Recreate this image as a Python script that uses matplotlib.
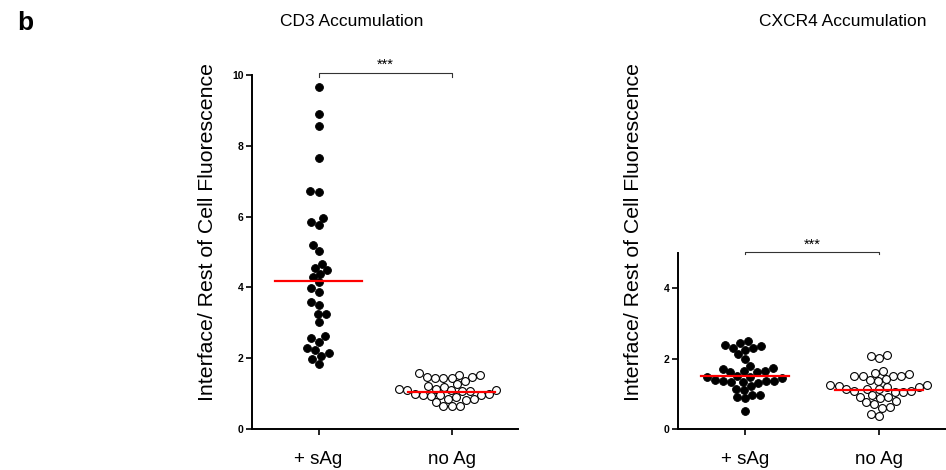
import numpy as np
import matplotlib
matplotlib.use('Agg')
import matplotlib.pyplot as plt

plt.rcParams['font.family'] = ['Liberation Sans', 'DejaVu Sans']

# ---------------------------------------------------------------------------
# Data
# ---------------------------------------------------------------------------
groups = ['+ sAg', 'no Ag']

cd3_sag = [9.66, 8.91, 8.55, 7.66, 6.70, 6.72, 5.85, 5.76, 5.96, 5.20, 5.04,
           4.67, 4.50, 4.54, 4.30, 4.37, 4.14, 3.97, 3.88, 3.60, 3.49, 3.24,
           3.24, 3.01, 2.62, 2.57, 2.47, 2.24, 2.07, 2.16, 2.29, 1.99, 1.85]
cd3_noag = [1.59, 1.53, 1.52, 1.48, 1.47, 1.45, 1.43, 1.43, 1.35,
            1.26, 1.22, 1.20,
            1.14, 1.12, 1.10, 1.10, 1.10, 1.08, 1.06,
            1.00, 1.00, 0.96, 0.96, 0.95, 0.93, 0.91,
            0.86, 0.84, 0.81, 0.75,
            0.65, 0.65, 0.65]
cd3_median = [4.18, 1.04]

cxcr4_sag = [2.49, 2.43, 2.40, 2.36, 2.30, 2.30, 2.24, 2.12, 2.00,
             1.79, 1.72, 1.70, 1.65, 1.64, 1.62, 1.61,
             1.50, 1.48, 1.48, 1.46,
             1.39, 1.37, 1.36, 1.36, 1.34, 1.34, 1.32,
             1.23, 1.15, 1.10,
             0.98, 0.98, 0.90, 0.87, 0.51]
cxcr4_noag = [2.10, 2.07, 2.02, 1.64, 1.58, 1.55, 1.51, 1.51, 1.51, 1.51,
              1.42, 1.39, 1.36, 1.24, 1.24, 1.22, 1.18, 1.18,
              1.13, 1.13, 1.08, 1.04, 1.06, 1.08, 1.13,
              0.92, 0.87, 0.77, 0.70, 0.79, 0.92, 0.96,
              0.60, 0.63, 0.38, 0.44]
cxcr4_median = [1.50, 1.10]

FIG_W, FIG_H = 946, 470
DIAM = 8.2  # marker spacing in pixels


def swarm_x(vals, center, px_per_x, px_per_y, diam=DIAM):
    """Simple beeswarm: place points (sorted by value) as close to the centre as possible."""
    vals = np.asarray(vals, dtype=float)
    xs = np.zeros(len(vals))
    placed = []
    for i in np.argsort(vals):
        y = vals[i] * px_per_y
        cands = [0.0]
        for px, py in placed:
            dy = y - py
            if abs(dy) < diam:
                dx = np.sqrt(diam ** 2 - dy ** 2)
                cands += [px + dx, px - dx]
        cands.sort(key=lambda c: (abs(c), c))
        for c in cands:
            if all((c - px) ** 2 + (y - py) ** 2 >= diam ** 2 - 1e-6 for px, py in placed):
                xs[i] = c
                placed.append((c, y))
                break
    return center + xs / px_per_x


def draw_panel(ax, sag, noag, medians, ymax, yticks):
    ax.set_xlim(-0.5, 1.5)
    ax.set_ylim(0, ymax)
    bbox = ax.get_position()
    px_x = bbox.width * FIG_W / 2.0
    px_y = bbox.height * FIG_H / ymax

    ax.scatter(swarm_x(sag, 0, px_x, px_y), sag, s=32, color='black',
               edgecolors='black', linewidths=0.6, zorder=3, clip_on=False)
    ax.scatter(swarm_x(noag, 1, px_x, px_y), noag, s=32, facecolors='white',
               edgecolors='black', linewidths=0.8, zorder=3, clip_on=False)
    for i, m in enumerate(medians):
        ax.plot([i - 0.33, i + 0.33], [m, m], color='red', lw=1.6, zorder=4)

    for s in ['top', 'right']:
        ax.spines[s].set_visible(False)
    for s in ['left', 'bottom']:
        ax.spines[s].set_linewidth(1.4)
    ax.set_xticks([0, 1])
    ax.set_xticklabels(groups, fontsize=13.5)
    ax.set_yticks(yticks)
    ax.set_yticklabels([str(t) for t in yticks], fontsize=7.5, fontweight='bold')
    ax.tick_params(axis='both', length=4, width=1.2, pad=2)
    ax.tick_params(axis='x', pad=12)

    # significance bracket
    yb = ymax * 1.005
    h = ymax * 0.012
    ax.plot([0, 0, 1, 1], [yb - h, yb, yb, yb - h], color='#333333', lw=0.8,
            clip_on=False)
    ax.text(0.5, yb + h * 0.3, '***', ha='center', va='bottom', fontsize=10.5)


fig = plt.figure(figsize=(FIG_W / 100, FIG_H / 100), dpi=100)

ax1 = fig.add_axes([252 / FIG_W, 1 - 429 / FIG_H, 266 / FIG_W, 354 / FIG_H])
ax2 = fig.add_axes([678 / FIG_W, 1 - 429 / FIG_H, 268 / FIG_W, 176 / FIG_H])

draw_panel(ax1, cd3_sag, cd3_noag, cd3_median, 10, [0, 2, 4, 6, 8, 10])
draw_panel(ax2, cxcr4_sag, cxcr4_noag, cxcr4_median, 5, [0, 2, 4])

ylab = 'Interface/ Rest of Cell Fluorescence'
fig.text(207 / FIG_W, 1 - 232 / FIG_H, ylab, rotation=90, ha='center',
         va='center', fontsize=15.3)
fig.text(633 / FIG_W, 1 - 232 / FIG_H, ylab, rotation=90, ha='center',
         va='center', fontsize=15.3)

fig.text(352 / FIG_W, 1 - 22 / FIG_H, 'CD3 Accumulation', ha='center',
         va='center', fontsize=12.5)
fig.text(843 / FIG_W, 1 - 22 / FIG_H, 'CXCR4 Accumulation', ha='center',
         va='center', fontsize=12.5)
fig.text(25 / FIG_W, 1 - 23 / FIG_H, 'b', ha='center', va='center',
         fontsize=19, fontweight='bold')

fig.savefig('out.png', dpi=100)
